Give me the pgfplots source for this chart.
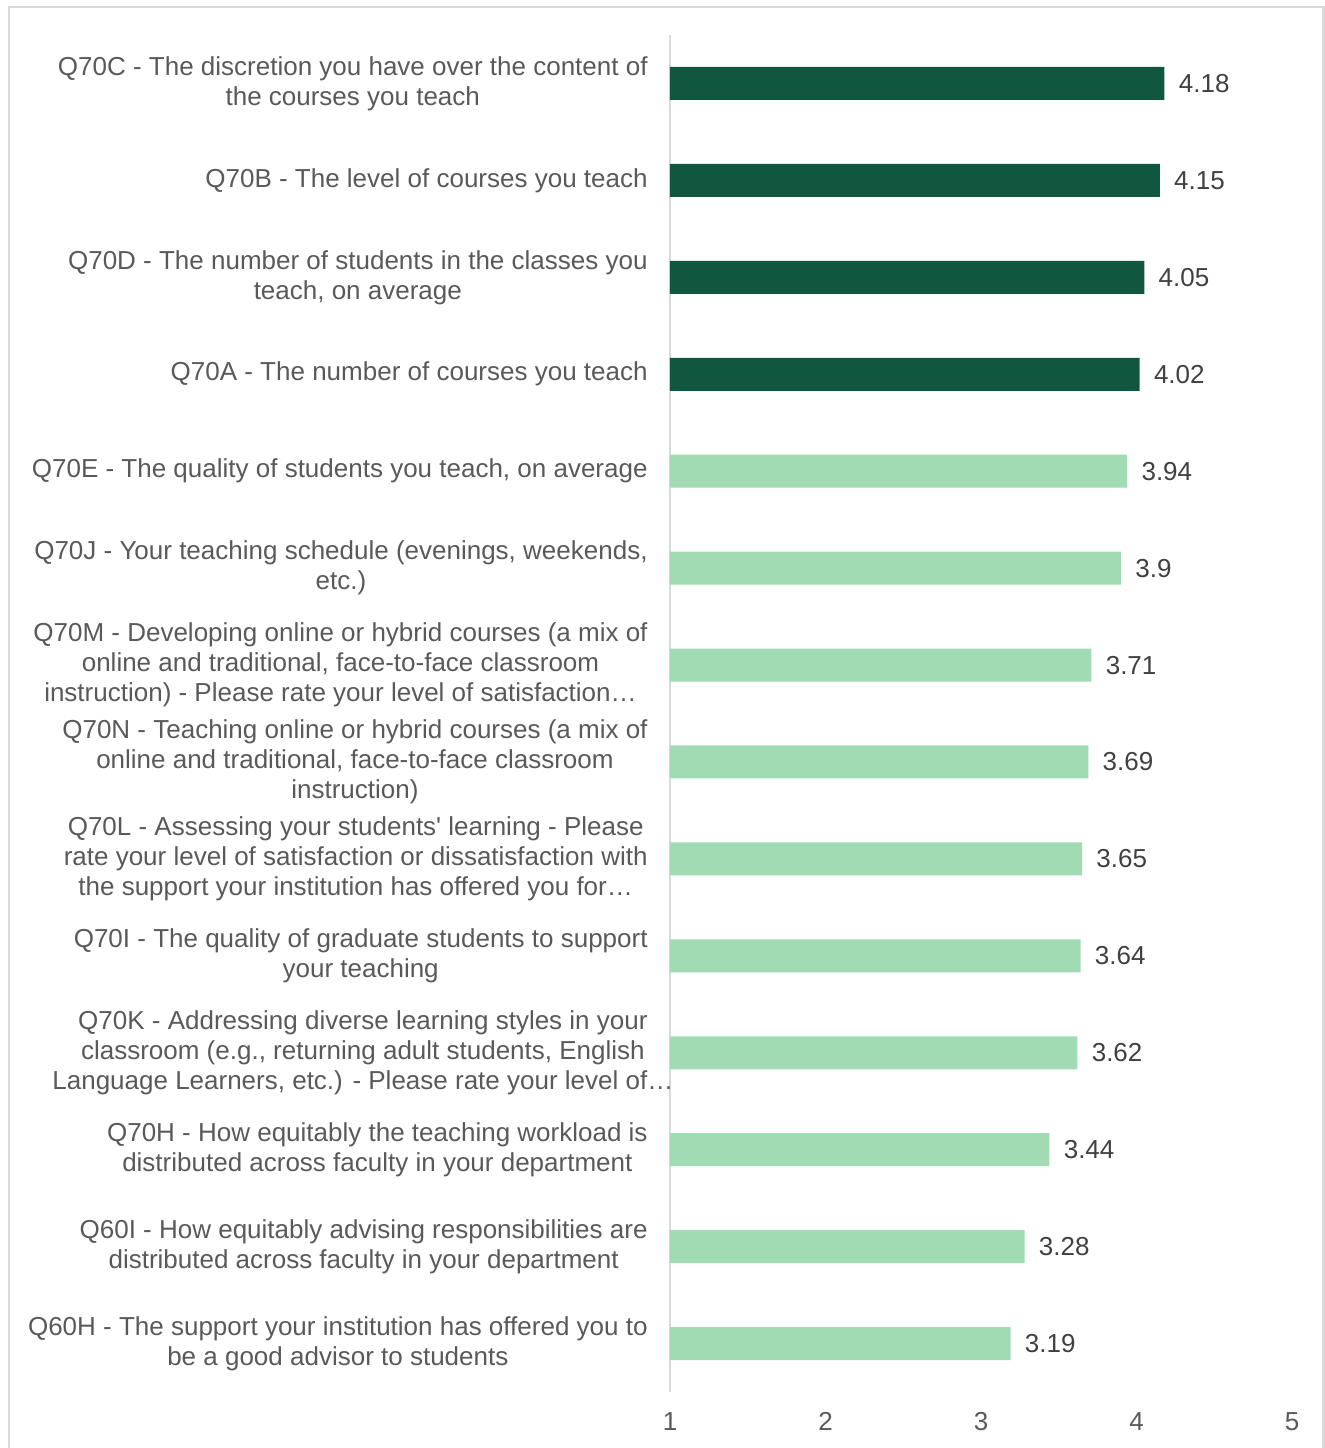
\documentclass[border=0pt]{standalone}
\usepackage{fontspec}
\setmainfont{Liberation Sans}
\usepackage{pgfplots}
\pgfplotsset{compat=1.18}
\definecolor{dk}{HTML}{115740}
\definecolor{lt}{HTML}{A1DBB3}
\definecolor{lbl}{HTML}{595959}
\definecolor{val}{HTML}{404040}
\definecolor{frm}{HTML}{D9D9D9}
\begin{document}
\begin{tikzpicture}
\begin{axis}[
  at={(335pt,28pt)}, anchor=south west,
  scale only axis, width=311pt, height=678.5pt,
  xmin=1, xmax=5, ymin=-0.5, ymax=13.5, y dir=reverse,
  xbar, bar width=16.5pt, bar shift=0pt,
  axis y line*=left, axis x line*=bottom,
  x axis line style={draw=none},
  y axis line style={-, draw=frm, line width=1pt},
  major tick length=0pt,
  xtick={1,2,3,4,5},
  ytick={0,...,13},
  /pgf/number format/assume math mode=true,
  xticklabel style={font=\fontsize{13}{15}\selectfont, color=lbl, inner sep=0pt, anchor=north, yshift=-10pt},
  yticklabel style={font=\fontsize{13}{15}\selectfont, color=lbl, inner sep=0pt, align=center, anchor=east, xshift=-11pt},
  yticklabels={
    {Q70C - The discretion you have over the content of\\the courses you teach},
    {Q70B - The level of courses you teach},
    {Q70D - The number of students in the classes you\\teach, on average},
    {Q70A - The number of courses you teach},
    {Q70E - The quality of students you teach, on average},
    {Q70J - Your teaching schedule (evenings, weekends,\\etc.)},
    {Q70M - Developing online or hybrid courses (a mix of\\online and traditional, face-to-face classroom\\instruction) - Please rate your level of satisfaction…},
    {Q70N - Teaching online or hybrid courses (a mix of\\online and traditional, face-to-face classroom\\instruction)},
    {Q70L - Assessing your students\textquotesingle\ learning - Please\\rate your level of satisfaction or dissatisfaction with\\the support your institution has offered you for…},
    {Q70I - The quality of graduate students to support\\your teaching},
    {Q70K - Addressing diverse learning styles in your\\classroom (e.g., returning adult students, English\\\makebox[270pt][c]{Language Learners, etc.) - Please rate your level of…}},
    {Q70H - How equitably the teaching workload is\\distributed across faculty in your department},
    {Q60I - How equitably advising responsibilities are\\distributed across faculty in your department},
    {Q60H - The support your institution has offered you to\\be a good advisor to students}
  },
  nodes near coords,
  point meta=x,
  every node near coord/.append style={font=\fontsize{13}{15}\selectfont, color=val, inner sep=0pt, anchor=west, xshift=7pt},
]
\addplot[fill=dk, draw=none] coordinates {(4.18,0) (4.15,1) (4.05,2) (4.02,3)};
\addplot[fill=lt, draw=none] coordinates {(3.94,4) (3.9,5) (3.71,6) (3.69,7) (3.65,8) (3.64,9) (3.62,10) (3.44,11) (3.28,12) (3.19,13)};
\end{axis}
\draw[frm, line width=1.2pt] (4.5pt,-10pt) -- (4.5pt,720.5pt) -- (661.8pt,720.5pt) -- (661.8pt,-10pt);
\pgfresetboundingbox
\useasboundingbox (0,0) rectangle (662.5pt,724pt);
\end{tikzpicture}
\end{document}
